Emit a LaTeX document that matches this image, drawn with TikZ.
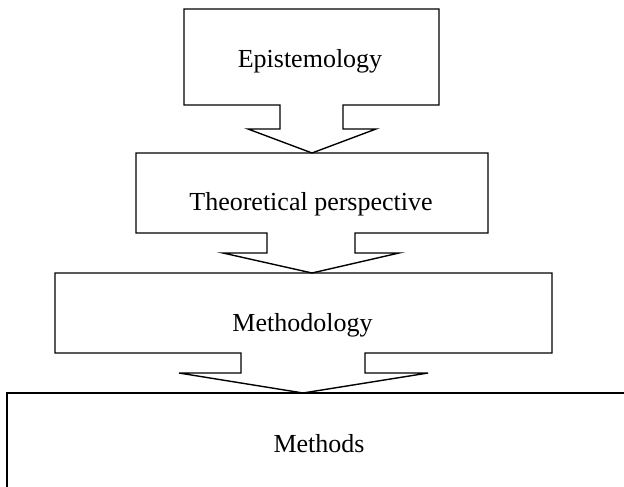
\documentclass[tikz,border=0pt]{standalone}
\usepackage{fontspec}
\setmainfont{Liberation Serif}
\tikzset{
  shapeline/.style={draw=black, line width=1.4pt, line join=miter},
  lbl/.style={anchor=base, inner sep=0pt, font=\fontsize{26}{30}\selectfont}
}
% callout: left, right, top, bottom, stem left, stem right, stem bottom, wing left, wing right, tip x, tip y
\newcommand{\downcallout}[4]{%
  \draw[shapeline] #1 -- #2 -- #3 -- #4 -- cycle;}
\begin{document}
\begin{tikzpicture}[x=1pt,y=-1pt]
\useasboundingbox (0,0) rectangle (624,487);
\fill[white] (0,0) rectangle (624,487);
% Epistemology
\draw[shapeline] (184,9) -- (439,9) -- (439,105) -- (343,105) -- (343,129) -- (376,129)
  -- (312,153) -- (248,129) -- (280,129) -- (280,105) -- (184,105) -- cycle;
% Theoretical perspective
\draw[shapeline] (136,153) -- (488,153) -- (488,233) -- (355,233) -- (355,253) -- (399,253)
  -- (312,273) -- (223,253) -- (267,253) -- (267,233) -- (136,233) -- cycle;
% Methodology
\draw[shapeline] (55,273) -- (552,273) -- (552,353) -- (365,353) -- (365,373) -- (428,373)
  -- (303,393) -- (179,373) -- (241,373) -- (241,353) -- (55,353) -- cycle;
% Methods (extends past the picture)
\begin{scope}
\clip (0,0) rectangle (624,487);
\draw[shapeline] (7,393) rectangle (640,500);
\end{scope}
\node[lbl] (epi) at (310,67) {Epistemology};
\node[lbl] (theo) at (311,210) {Theoretical perspective};
\node[lbl] (methy) at (302.5,331) {Methodology};
\node[lbl] (meths) at (319,452) {Methods};
\end{tikzpicture}
\end{document}
